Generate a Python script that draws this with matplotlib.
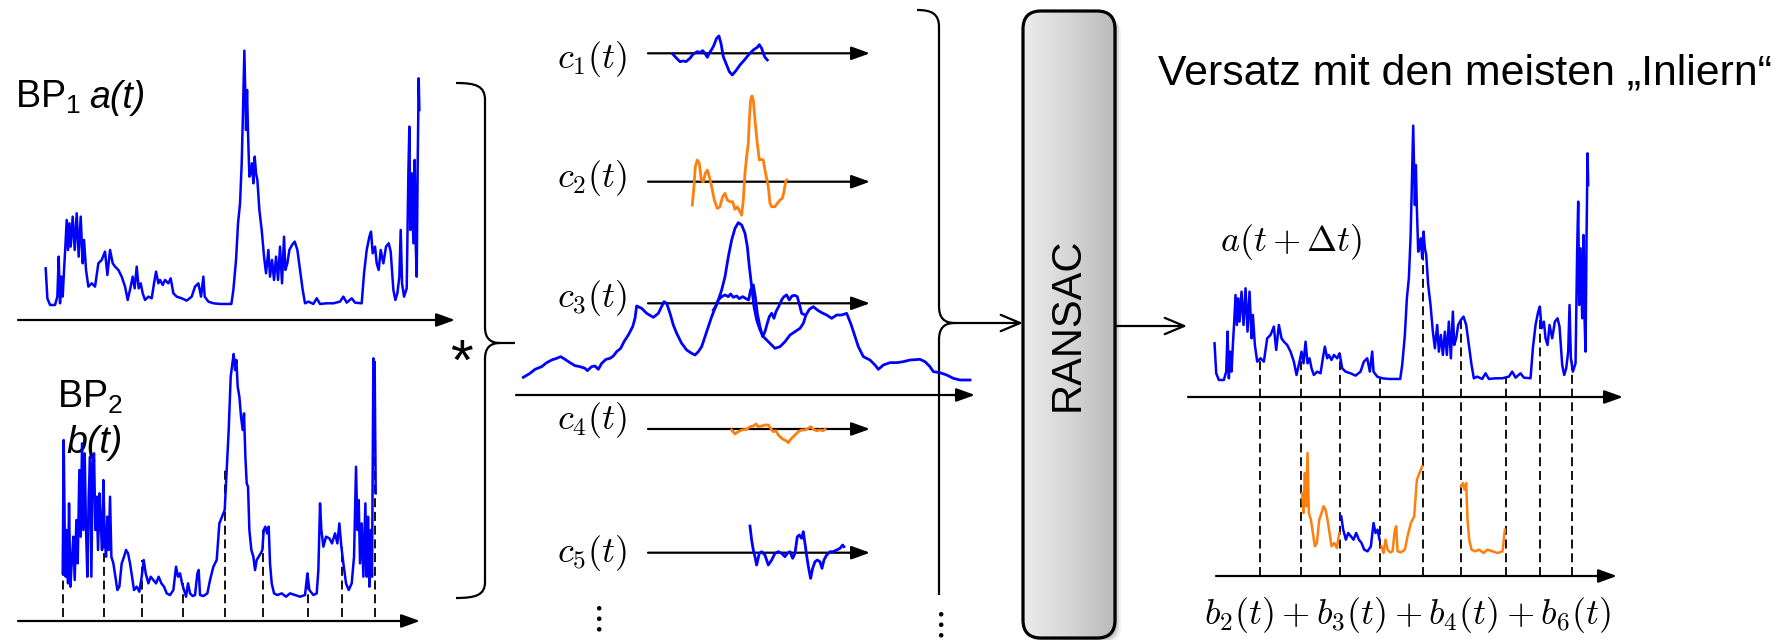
import numpy as np
import matplotlib
matplotlib.use("Agg")
import matplotlib.pyplot as plt
from matplotlib.patches import FancyBboxPatch, PathPatch
from matplotlib.path import Path
from matplotlib.colors import LinearSegmentedColormap

# ------------------------------------------------------------------
# Data (arbitrary units: samples / amplitude)
# ------------------------------------------------------------------
# BP1 signal a(t)
a_t = [0, 5, 13, 28, 35, 39, 43, 47, 51, 55, 59, 63, 67, 71, 75, 81, 87, 93, 99, 105,
       111, 115, 121, 128, 138, 148, 158, 168, 178, 185, 193, 201, 208, 218, 228, 238,
       246, 255, 261, 267, 273, 279, 285, 291, 298, 308, 318, 325, 331, 338, 343, 351,
       358, 368, 375, 383, 393, 408, 423, 438, 448, 458, 466, 473, 477, 488, 503, 523,
       543, 557, 563, 571, 577, 583, 588, 591, 594, 596, 599, 601, 604, 607, 611, 615,
       619, 623, 627, 631, 635, 641, 648, 655, 661, 668, 673, 679, 685, 691, 697, 703,
       709, 715, 719, 725, 731, 739, 747, 755, 763, 771, 778, 788, 803, 813, 823, 843,
       863, 883, 893, 903, 918, 928, 948, 955, 963, 971, 976, 981, 988, 993, 999, 1005,
       1013, 1021, 1029, 1035, 1043, 1049, 1055, 1061, 1065, 1069, 1075, 1083, 1088,
       1091, 1094, 1098, 1103, 1107, 1110, 1113, 1116, 1119, 1121]
a_v = [105, 15, -5, -5, 20, 140, 0, 80, 20, 100, 170, 250, 160, 240, 170, 260, 160, 270,
       140, 260, 120, 190, 100, 50, 60, 50, 120, 130, 155, 85, 160, 120, 110, 100, 80, 50,
       10, 50, 80, 45, 110, 45, 60, 30, 10, 20, 15, 60, 95, 60, 70, 55, 70, 60, 75, 30, 20,
       15, 8, 20, 50, 60, 20, 80, 20, 5, 0, -2, -2, -2, 40, 130, 240, 300, 420, 540, 680,
       758, 620, 520, 640, 510, 380, 390, 420, 360, 440, 390, 370, 280, 220, 140, 90, 160,
       80, 130, 70, 140, 70, 170, 60, 200, 100, 120, 160, 175, 185, 160, 100, 40, 0, 5,
       -2, 15, -2, 0, 0, 5, 20, 2, 15, 2, 0, 90, 160, 200, 215, 150, 170, 120, 100, 160,
       120, 170, 180, 155, 40, 10, 30, 80, 220, 60, 20, 45, 390, 530, 220, 390, 180, 430,
       180, 80, 420, 675, 580]

# BP2 signal b(t)
b_t = [0, 3, 6, 9, 12, 16, 19, 23, 27, 32, 36, 41, 45, 50, 54, 58, 62, 66, 70, 74, 78,
       82, 86, 90, 94, 98, 102, 106, 110, 114, 118, 122, 126, 130, 134, 138, 142, 146,
       152, 158, 164, 170, 177, 184, 190, 196, 202, 208, 214, 222, 230, 237, 243, 249,
       257, 264, 272, 280, 288, 296, 304, 312, 322, 332, 340, 346, 352, 358, 364, 370,
       376, 382, 390, 397, 404, 408, 412, 422, 434, 442, 452, 462, 470, 478, 486, 492,
       498, 504, 509, 513, 517, 521, 525, 530, 535, 540, 544, 548, 552, 556, 560, 566,
       572, 577, 582, 588, 594, 599, 603, 608, 613, 618, 622, 627, 634, 644, 657, 670,
       682, 697, 712, 727, 734, 740, 752, 762, 767, 772, 776, 782, 790, 800, 808, 817,
       824, 830, 836, 842, 850, 858, 867, 874, 880, 884, 888, 892, 897, 902, 908, 912,
       916, 920, 924, 928, 932, 936, 939]
b_v = [70, 470, 200, 60, 200, 40, 280, 30, 100, 180, 50, 230, 100, 380, 180, 460, 200,
       430, 200, 60, 300, 420, 60, 400, 430, 200, 300, 140, 310, 220, 140, 350, 180, 120,
       240, 140, 300, 120, 100, 60, 20, 30, 100, 120, 140, 130, 100, 60, 20, 30, 15, 60,
       110, 70, 40, 60, 50, 40, 60, 40, 30, 10, 5, 20, 90, 60, 70, 40, 20, 0, 40, 10, 2,
       5, 70, 80, 5, 2, 10, 50, 90, 110, 220, 240, 260, 380, 500, 660, 700, 728, 680,
       710, 630, 600, 540, 500, 550, 420, 340, 330, 200, 140, 120, 80, 110, 120, 130,
       140, 200, 210, 190, 210, 100, 40, 10, 5, 10, 0, 10, 5, 0, 5, 70, 20, 5, 10, 80,
       280, 200, 150, 180, 175, 160, 190, 160, 220, 150, 100, 40, 20, 40, 120, 390, 200,
       290, 100, 220, 60, 280, 60, 240, 30, 200, 60, 715, 680, 310]

# segment borders of b(t) and the offset found by RANSAC
b_breaks = [0, 123, 239, 360, 488, 602, 737, 839, 936]
delta_t = 137
inlier_parts = [2, 3, 4, 6]                  # b_2, b_3, b_4, b_6
inlier_colors = ["orange", "blue", "orange", "orange"]

# cross-correlation pieces c_i(t)
c1_t = [73, 85, 95, 105, 113, 125, 135, 147, 155, 163, 170, 177, 183, 195, 205, 212, 218,
        225, 233, 243, 252, 263, 275, 290, 303, 315, 327, 333, 340, 345, 350, 357]
c1_v = [-2, -15, -25, -23, -25, -15, -2, 5, 2, 8, 0, -12, 0, 20, 45, 52, 30, -10, -30,
        -55, -65, -52, -35, -18, -2, 10, 18, 26, 15, 0, -12, -20]
c2_t = [132, 137, 141, 147, 153, 159, 165, 171, 177, 183, 190, 198, 207, 215, 223, 230,
        237, 245, 253, 260, 267, 275, 280, 285, 290, 295, 300, 303, 307, 311, 315, 321,
        327, 333, 338, 345, 350, 355, 360, 365, 370, 380, 387, 395, 402, 407, 412, 415]
c2_v = [-70, -15, 45, 65, 55, 5, 0, 25, 35, 15, -15, -55, -80, -75, -45, -35, -55, -60,
        -60, -83, -75, -90, -100, -55, 25, 75, 115, 185, 245, 257, 245, 175, 115, 65, 67,
        65, 35, 10, -15, -65, -75, -75, -65, -55, -50, -30, 0, 5]
c3_t = [195, 203, 210, 220, 230, 240, 247, 255, 265, 273, 283, 293, 301, 307, 315, 321,
        327, 335, 343, 350, 357, 363, 370, 377, 383, 391, 400, 407, 415, 423, 431, 439,
        447, 453, 460, 470]
c3_v = [-20, -8, 10, 20, 25, 20, 28, 18, 22, 14, 20, 14, 10, 40, 55, 20, -30, -70, -100,
        -85, -60, -40, -30, -45, -25, -10, 10, 20, 25, 10, 22, 24, 20, -2, -30, -35]
c4_t = [250, 260, 270, 280, 295, 305, 315, 323, 330, 340, 350, 360, 367, 375, 383, 390,
        397, 405, 413, 420, 427, 435, 443, 450, 460, 470, 480, 487, 495, 505, 515, 525, 530]
c4_v = [-3, -15, -8, -3, -1, 7, 9, 15, 7, 9, 12, 12, 2, -8, -5, -18, -25, -31, -35, -41,
        -31, -23, -15, -8, -3, -3, 2, 7, -1, -5, -3, -5, -1]
c5_t = [305, 310, 315, 320, 325, 333, 340, 350, 360, 370, 380, 390, 400, 410, 417, 425,
        433, 440, 447, 453, 460, 465, 470, 477, 483, 487, 493, 500, 507, 515, 521, 527,
        535, 545, 555, 565, 575, 583, 587]
c5_v = [80, 38, 8, -12, -37, -2, 3, -7, -37, -22, -2, 3, -2, -12, -2, 3, -17, -2, 48, 53,
        43, 63, 28, -22, -57, -77, -47, -27, -22, -27, -47, -22, -7, 3, 3, 8, 13, 23, 18]

# full cross-correlation of a and b
xc_t = [22, 42, 57, 77, 92, 107, 122, 134, 147, 162, 177, 192, 207, 214, 227, 237, 247,
        257, 270, 282, 292, 302, 314, 324, 337, 350, 357, 362, 377, 392, 412, 427, 444,
        452, 462, 472, 482, 497, 512, 527, 537, 547, 557, 567, 577, 587, 597, 607, 617,
        627, 637, 647, 657, 667, 677, 687, 694, 700, 707, 714, 722, 732, 742, 752, 764,
        777, 792, 807, 822, 837, 852, 862, 870, 880, 892, 904, 917, 932, 947, 962, 977,
        992, 1004, 1014, 1027, 1042, 1062, 1077, 1087, 1102, 1122, 1142, 1162, 1182,
        1212, 1227, 1242, 1252, 1272, 1292, 1312, 1332, 1362]
xc_v = [53, 65, 77, 85, 97, 105, 110, 115, 107, 97, 88, 85, 80, 73, 85, 87, 77, 95, 107,
        110, 117, 130, 140, 160, 180, 205, 230, 267, 260, 245, 233, 245, 280, 275, 245,
        210, 185, 155, 135, 125, 120, 130, 145, 175, 205, 235, 260, 285, 315, 355, 415,
        465, 500, 517, 510, 485, 445, 385, 325, 265, 225, 195, 175, 165, 153, 140, 145,
        160, 180, 190, 200, 215, 240, 257, 265, 255, 247, 240, 230, 240, 240, 245, 215,
        185, 145, 115, 105, 90, 77, 90, 97, 97, 100, 105, 107, 100, 85, 70, 67, 60, 50,
        45, 45]

c_series = [(c1_t, c1_v, "blue"), (c2_t, c2_v, "orange"), (c3_t, c3_v, "blue"),
            (c4_t, c4_v, "orange"), (c5_t, c5_v, "blue")]

# ------------------------------------------------------------------
# Styling / layout
# ------------------------------------------------------------------
COL = {"blue": "#0000ff", "orange": "#ff7f0e"}
plt.rcParams["mathtext.fontset"] = "cm"
plt.rcParams["mathtext.rm"] = "Liberation Sans"
plt.rcParams["mathtext.it"] = "Liberation Sans:italic"
plt.rcParams["mathtext.bf"] = "Liberation Sans:bold"
plt.rcParams["font.family"] = ["Liberation Sans", "DejaVu Sans"]

W, H = 1781, 640
fig = plt.figure(figsize=(W / 100, H / 100), dpi=100)
ax = fig.add_axes([0, 0, 1, 1])
ax.set_axis_off()
K = 1 / 3.0       # pixels per data unit


def panel(ox, oy, t, v, pad=5):
    t_lo, t_hi = min(t) - pad, max(t) + pad
    v_lo, v_hi = min(v) - pad, max(v) + pad
    x0, x1 = ox + t_lo * K, ox + t_hi * K
    yt, yb = oy - v_hi * K, oy - v_lo * K
    p = fig.add_axes([x0 / W, 1 - yb / H, (x1 - x0) / W, (yb - yt) / H])
    p.set_xlim(t_lo, t_hi)
    p.set_ylim(v_lo, v_hi)
    p.set_axis_off()
    p.patch.set_alpha(0)
    return p


def v_of(oy, ypx):
    return (oy - ypx) / K


def h_arrow(x0, y, x1, filled=True, lw=1.6):
    if filled:
        st, ms = "-|>,head_length=0.75,head_width=0.27", 15
    else:
        st, ms = "->,head_length=1.0,head_width=0.42", 14
    ax.annotate("", xy=(x1, y), xytext=(x0, y),
                arrowprops=dict(arrowstyle=st, lw=lw, color="k", mutation_scale=ms,
                                shrinkA=0, shrinkB=0), zorder=3)


def local_top(tt, vv, pos, win=4):
    tt, vv = np.asarray(tt), np.asarray(vv)
    m = np.abs(tt - pos) <= win
    return vv[m].max() if m.any() else np.interp(pos, tt, vv)


sig_lw = 1.8
dash_kw = dict(color="k", lw=1.3, linestyle=(0, (5, 2.6)), clip_on=False, zorder=1)

# ---------------- left: a(t) and b(t) ----------------
A_OX, A_OY = 45.7, 303.3
B_OX, B_OY = 62.7, 596.7
pa = panel(A_OX, A_OY, a_t, a_v)
pa.plot(a_t, a_v, color=COL["blue"], lw=sig_lw, clip_on=False)
h_arrow(18, 320, 455)

pb = panel(B_OX, B_OY, b_t, b_v)
pb.plot(b_t, b_v, color=COL["blue"], lw=sig_lw, clip_on=False, zorder=3)
for bp in b_breaks:
    pb.plot([bp, bp], [v_of(B_OY, 617), local_top(b_t, b_v, bp)], **dash_kw)
h_arrow(18, 621, 420)

ax.text(15, 108, r"BP$_1$", fontsize=27, va="baseline", ha="left",
        math_fontfamily="custom")
ax.text(89, 108, "a(t)", fontsize=27, va="baseline", ha="left", fontstyle="italic")
ax.text(57, 408, r"BP$_2$", fontsize=27, va="baseline", ha="left", math_fontfamily="custom")
ax.text(66, 453, "b(t)", fontsize=27, va="baseline", ha="left", fontstyle="italic")
ax.text(461, 380, "*", fontsize=42, ha="center", va="baseline")

# braces
M, L, C = Path.MOVETO, Path.LINETO, Path.CURVE4


def brace_path(verts, codes):
    ax.add_patch(PathPatch(Path(verts, codes), fc="none", ec="k", lw=1.6, zorder=3))


brace_path([(456, 83), (476, 83), (485, 86), (485, 100), (485, 327), (485, 338), (490, 343),
            (500, 343), (515, 343)], [M, C, C, C, L, C, C, C, L])
brace_path([(500, 343), (490, 343), (485, 348), (485, 359), (485, 582), (485, 595), (476, 598),
            (456, 598)], [M, C, C, C, L, C, C, C])

# ---------------- middle: cross-correlations ----------------
C_OX = 648.3
c_axis_y = [53.3, 181.7, 303.3, 429.0, 552.7]
c_label_y = [59, 178, 298, 420, 553]
for i, ((tt, vv, col), ay, ly) in enumerate(zip(c_series, c_axis_y, c_label_y)):
    h_arrow(648, ay, 870)
    pc = panel(C_OX, ay, tt, vv)
    pc.plot(tt, vv, color=COL[col], lw=2.0, clip_on=False)
    ax.text(557, ly, r"$c_{%d}(t)$" % (i + 1), fontsize=26, ha="left", va="center")

XC_OX, XC_OY = 516.0, 395.0
pxc = panel(XC_OX, XC_OY, xc_t, xc_v)
pxc.plot(xc_t, xc_v, color=COL["blue"], lw=2.0, clip_on=False)
h_arrow(516, 395, 975)

ax.text(596, 619, r"$\vdots$", fontsize=26, ha="center", va="center")
ax.text(938, 625, r"$\vdots$", fontsize=26, ha="center", va="center")

brace_path([(917, 10), (932, 10), (939, 14), (939, 27), (939, 306), (939, 318), (944, 323),
            (955, 323)], [M, C, C, C, L, C, C, C])
brace_path([(955, 323), (944, 323), (939, 328), (939, 340), (939, 595)], [M, C, C, C, L])
h_arrow(955, 323, 1023, filled=False)

# ---------------- RANSAC box ----------------
bx, by, bw, bh = 1023, 11, 92, 627
for d, al in [(6, 0.06), (4, 0.10), (2, 0.18)]:
    ax.add_patch(FancyBboxPatch((bx + d, by + d), bw, bh,
                                boxstyle="round,pad=0,rounding_size=18",
                                fc="k", ec="none", alpha=al, zorder=3))
box = FancyBboxPatch((bx, by), bw, bh, boxstyle="round,pad=0,rounding_size=18",
                     fc="none", ec="k", lw=2.3, zorder=5)
ax.add_patch(box)
cmap = LinearSegmentedColormap.from_list("g", ["#ececec", "#d6d6d6", "#bababa"])
im = ax.imshow(np.linspace(0, 1, 256).reshape(1, -1), extent=[bx, bx + bw, by + bh, by],
               cmap=cmap, aspect="auto", zorder=4, interpolation="bilinear")
im.set_clip_path(box)
ax.text(bx + bw / 2 - 1, 324, "RANSAC", rotation=90, fontsize=30, ha="center",
        va="center", zorder=6)
h_arrow(1115, 326, 1187, filled=False)

# ---------------- right: result ----------------
BR_OX, BR_OY = 1260.2, 553.0
AR_OX, AR_OY = BR_OX - delta_t * K, 378.3

ax.text(1158, 85, "Versatz mit den meisten \u201eInliern\u201c", fontsize=30.8,
        ha="left", va="baseline")

par = panel(AR_OX, AR_OY, a_t, a_v)
par.plot(a_t, a_v, color=COL["blue"], lw=sig_lw, clip_on=False, zorder=3)
for bp in b_breaks:
    tpos = bp + delta_t
    par.plot([tpos, tpos], [v_of(AR_OY, 576), local_top(a_t, a_v, tpos)], **dash_kw)
h_arrow(1188, 397, 1623)
h_arrow(1216, 576, 1617)
ax.text(1220, 242, r"$a(t+\Delta t)$", fontsize=26, ha="left", va="center")

pbr = panel(BR_OX, BR_OY, b_t, b_v)
bt_arr, bv_arr = np.asarray(b_t), np.asarray(b_v)
for part, col in zip(inlier_parts, inlier_colors):
    lo, hi = b_breaks[part - 1], b_breaks[part]
    m = (bt_arr >= lo) & (bt_arr <= hi)
    pbr.plot(bt_arr[m], bv_arr[m], color=COL[col], lw=sig_lw, clip_on=False, zorder=3)

sum_label = "$" + "+".join(r"b_{%d}(t)" % p for p in inlier_parts) + "$"
ax.text(1204, 615, sum_label, fontsize=26, ha="left", va="center")

ax.set_xlim(0, W)
ax.set_ylim(H, 0)
fig.savefig("out.png", dpi=100)
